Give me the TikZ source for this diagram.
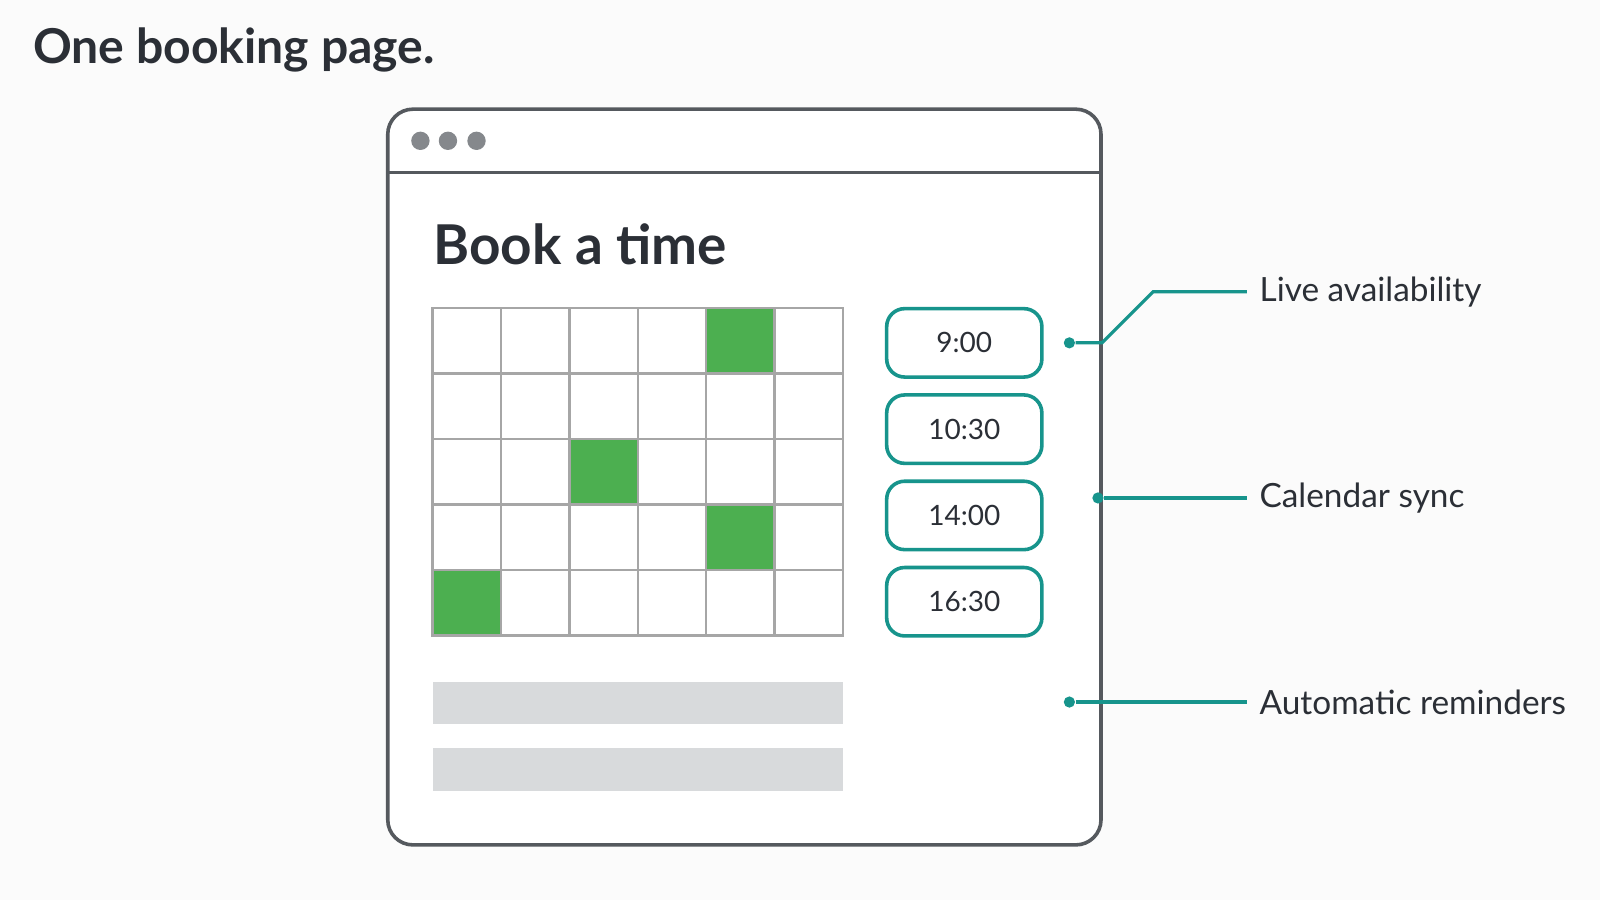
\documentclass[tikz,border=0pt]{standalone}
\usepackage{fontspec}
\setmainfont{Lato}
\usetikzlibrary{positioning}
\definecolor{ink}{HTML}{2B2F36}
\definecolor{frame}{HTML}{55595E}
\definecolor{teal}{HTML}{17948C}
\definecolor{slot}{HTML}{4CAF50}
\definecolor{bar}{HTML}{D8DADC}
\definecolor{dotgray}{HTML}{85888C}
\tikzset{
  cell/.style = {draw=gray!70, line width=0.7pt, minimum width=0.67cm, minimum height=0.642cm, inner sep=0pt, outer sep=0pt},
  busy/.style = {cell, fill=slot},
  timebtn/.style = {draw=teal, line width=1pt, rounded corners=5pt, minimum width=1.52cm, minimum height=0.67cm, font=\fontsize{7.8}{9}\selectfont, text=ink},
  callout/.style = {anchor=west, font=\fontsize{9.3}{11}\selectfont, text=ink},
  pin/.style = {circle, fill=teal, inner sep=0pt, minimum size=0.11cm},
  link/.style = {teal, line width=0.9pt}
}
\begin{document}
\begin{tikzpicture}[x=0.01cm, y=-0.01cm]
\useasboundingbox[fill=gray!3] (0,0) rectangle (1568,882);

% heading
\node (heading) [anchor=base west, font=\bfseries\fontsize{13.4}{15}\selectfont, text=ink, inner sep=0pt] at (32,62) {One booking page.};

% browser window
\draw[frame, line width=1pt, rounded corners=7pt, fill=white] (380,107) rectangle (1079,828);
\draw[frame, line width=1pt] (380,169) -- (1079,169);
\foreach \x in {412,439,467}
  \fill[dotgray] (\x,138) circle (9);

\node (booktitle) [anchor=base west, font=\bfseries\fontsize{15.3}{17}\selectfont, text=ink, inner sep=0pt] at (424,259) {Book a time};

% calendar grid
\foreach \r in {0,...,4}
  \foreach \c in {0,...,5}
    \node (g\r\c) [cell, anchor=north west] at ({424+67*\c},{302+64.2*\r}) {};
\foreach \r/\c in {0/4,2/2,3/4,4/0}
  \node [busy, anchor=north west] at ({424+67*\c},{302+64.2*\r}) {};

% time slots
\node (t1) [timebtn] at (945,336) {9:00};
\node (t2) [timebtn, below=0.14cm of t1] {10:30};
\node (t3) [timebtn, below=0.14cm of t2] {14:00};
\node (t4) [timebtn, below=0.14cm of t3] {16:30};

% placeholder bars
\fill[bar] (424,668) rectangle (826,710);
\fill[bar] (424,733) rectangle (826,775);

% callouts
\node (pa) [pin] at (1048,336) {};
\node (pb) [pin] at (1076,488) {};
\node (pc) [pin] at (1048,688) {};
\node (la) [callout] at (1222,286) {Live availability};
\node (lb) [callout] at (1222,488) {Calendar sync};
\node (lc) [callout] at (1222,688) {Automatic reminders};
\coordinate (bend) at (1130,286);
\draw[link] (pa) -- (1080,336) -- (bend) -- (la.west);
\draw[link] (pb) -- (lb.west);
\draw[link] (pc) -- (lc.west);
\end{tikzpicture}
\end{document}
